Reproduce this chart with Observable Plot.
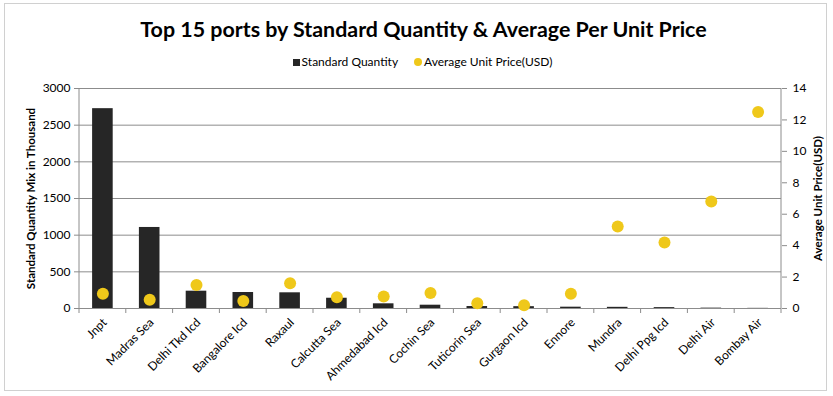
<!DOCTYPE html>
<html><head><meta charset="utf-8">
<script src="https://cdn.jsdelivr.net/npm/d3@7"></script>
<script src="https://cdn.jsdelivr.net/npm/@observablehq/plot@0.6"></script>
<style>
body{margin:0;background:#fff;font-family:Lato,"Open Sans",sans-serif;}
#wrap{position:relative;width:833px;height:396px;}
#border{position:absolute;left:4px;top:3px;width:823px;height:388px;border:1px solid #d0d0d0;box-sizing:border-box;}
#title{position:absolute;left:14px;top:16px;width:819px;text-align:center;font-size:21.4px;font-weight:bold;color:#000;}
#legend{position:absolute;left:12px;top:54px;width:821px;text-align:center;font-size:12px;color:#000;}
#legend span{margin:0 8px;}
.sw{display:inline-block;width:7px;height:7px;background:#262626;vertical-align:0px;margin-right:2px;}
.dt{display:inline-block;width:8px;height:8px;border-radius:50%;background:#EFC81A;vertical-align:0px;margin-right:2px;}
#chart{position:absolute;left:0;top:72px;}
</style></head>
<body><div id="wrap"><div id="border"></div>
<div id="title">Top 15 ports by Standard Quantity &amp; Average Per Unit Price</div>
<div id="legend"><span><i class="sw"></i>Standard Quantity</span><span><i class="dt"></i>Average Unit Price(USD)</span></div>
<div id="chart"></div></div>
<script>
const ports = ["Jnpt","Madras Sea","Delhi Tkd Icd","Bangalore Icd","Raxaul","Calcutta Sea","Ahmedabad Icd","Cochin Sea","Tuticorin Sea","Gurgaon Icd","Ennore","Mundra","Delhi Ppg Icd","Delhi Air","Bombay Air"];
const quantity = [2725,1105,236,218,214,140,64,45,27,25,18,16,12,5,2];
const price = [0.94,0.55,1.5,0.47,1.61,0.72,0.76,0.98,0.34,0.21,0.94,5.22,4.2,6.81,12.5];
const leftTicks = [0,500,1000,1500,2000,2500,3000];
const rightTicks = [0,2,4,6,8,10,12,14];
const qMax = 3000, pMax = 14;
const toLeft = v => v * qMax / pMax;

const data = ports.map((p,i)=>({port:p, q:quantity[i], pr:price[i]}));
const W = 833, H = 320, mL = 79, mR = 52, mT = 16, mB = 84;

const plot = Plot.plot({
  width: W, height: H, marginLeft: mL, marginRight: mR, marginTop: mT, marginBottom: mB,
  style: {fontFamily: "Lato, 'Open Sans', sans-serif", fontSize: "12px", color: "#000", background: "transparent"},
  x: {domain: ports, paddingInner: 0.56, paddingOuter: 0.28, align: 0.5, round: false},
  y: {domain: [0, qMax]},
  marks: [
    Plot.gridY(leftTicks, {stroke: "#8c8c8c", strokeOpacity: 1}),
    Plot.barY(data, {x: "port", y: "q", fill: "#262626"}),
    Plot.dot(data, {x: "port", y: d => toLeft(d.pr), r: 6, fill: "#EFC81A"}),
    Plot.axisY(leftTicks, {anchor: "left", tickSize: 5, tickPadding: 4, stroke: "#8c8c8c", label: null, tickFormat: d => String(d), fontSize: 12}),
    Plot.axisY(rightTicks.map(toLeft), {anchor: "right", tickSize: 5, tickPadding: 6, stroke: "#8c8c8c", label: null, tickFormat: d => String(Math.round(d * pMax / qMax)), fontSize: 12}),
    Plot.axisX({tickSize: 0, tickRotate: -45, tickPadding: 12, dx: 2, label: null, fontSize: 12}),
    Plot.text(["Standard Quantity Mix in Thousand"], {frameAnchor: "left", textAnchor: "middle", dx: -48, rotate: -90, fontWeight: "bold", fontSize: 11.5}),
    Plot.text(["Average Unit Price(USD)"], {frameAnchor: "right", textAnchor: "middle", dx: 37, rotate: -90, fontWeight: "bold", fontSize: 11.5})
  ]
});

// axis lines and category boundary ticks, positioned via the plot's own scales
const xs = plot.scale("x"), ys = plot.scale("y");
const svg = d3.select(plot);
const x0 = xs.range[0], x1 = xs.range[1];
const yTop = ys.range[1], yBot = ys.range[0];
const g = svg.append("g").attr("stroke", "#8c8c8c").attr("stroke-width", 1);
g.append("line").attr("x1", x0).attr("x2", x0).attr("y1", yTop).attr("y2", yBot);
g.append("line").attr("x1", x1).attr("x2", x1).attr("y1", yTop).attr("y2", yBot);
const step = (x1 - x0) / ports.length;
d3.range(ports.length + 1).forEach(i => {
  g.append("line").attr("x1", x0 + i*step).attr("x2", x0 + i*step).attr("y1", yBot).attr("y2", yBot + 5);
});
document.getElementById("chart").appendChild(plot);
</script></body></html>
